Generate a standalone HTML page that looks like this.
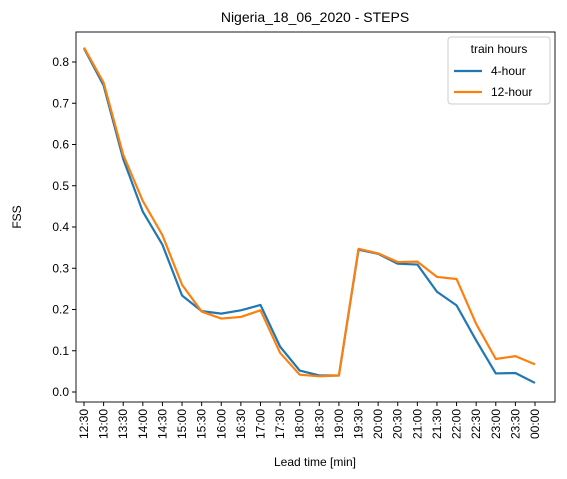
<!DOCTYPE html>
<html><head><meta charset="utf-8"><style>
body{margin:0;background:#fff;}
svg{display:block;font-family:"Liberation Sans","DejaVu Sans",sans-serif;}
</style></head><body>
<svg id="chart" width="567" height="479">
<rect width="567" height="479" fill="#fff"/>
<text x="315" y="22" text-anchor="middle" font-size="14">Nigeria_18_06_2020 - STEPS</text>
<g id="grid"></g>
<g id="lines"></g>
<rect x="76" y="32" width="479" height="370" fill="none" stroke="#000" stroke-width="0.9"/>
<text x="315" y="466" text-anchor="middle" font-size="12">Lead time [min]</text>
<text transform="translate(21,217) rotate(-90)" text-anchor="middle" font-size="12">FSS</text>
<g>
<rect x="448" y="37" width="102" height="67" rx="3" fill="#fff" stroke="#ccc"/>
<text x="499" y="53" text-anchor="middle" font-size="12">train hours</text>
<line x1="454" y1="71" x2="482" y2="71" stroke="#1f77b4" stroke-width="2.2"/>
<text x="491" y="75" font-size="12">4-hour</text>
<line x1="454" y1="92" x2="482" y2="92" stroke="#ff7f0e" stroke-width="2.2"/>
<text x="491" y="96" font-size="12">12-hour</text>
</g>
</svg>
<script>
const categories=["12:30","13:00","13:30","14:00","14:30","15:00","15:30","16:00","16:30","17:00","17:30","18:00","18:30","19:00","19:30","20:00","20:30","21:00","21:30","22:00","22:30","23:00","23:30","00:00"];
const series4h=[0.833,0.743,0.565,0.437,0.357,0.234,0.196,0.190,0.198,0.211,0.110,0.052,0.040,0.040,0.345,0.335,0.311,0.309,0.243,0.210,0.125,0.045,0.046,0.022];
const series12h=[0.835,0.750,0.575,0.463,0.380,0.260,0.195,0.178,0.182,0.198,0.095,0.042,0.038,0.040,0.347,0.336,0.315,0.316,0.279,0.274,0.165,0.080,0.087,0.067];
const yTicks=[0,0.1,0.2,0.3,0.4,0.5,0.6,0.7,0.8];
const NS="http://www.w3.org/2000/svg";
function xs(i){return 84+i*(535-84)/(categories.length-1);}
function ys(v){return 392-v*412.5;}
const g=document.getElementById('grid'),L=document.getElementById('lines');
function mk(t,a,p){const e=document.createElementNS(NS,t);for(const k in a)e.setAttribute(k,a[k]);p.appendChild(e);return e;}
yTicks.forEach(v=>{
 mk('line',{x1:72,x2:76,y1:ys(v),y2:ys(v),stroke:'#000'},g);
 const t=mk('text',{x:69,y:ys(v)+4,'text-anchor':'end','font-size':12},g);
 t.textContent=v.toFixed(1);
 
 
});
categories.forEach((c,i)=>{
 mk('line',{x1:xs(i),x2:xs(i),y1:402,y2:406,stroke:'#000'},g);
 const t=mk('text',{transform:`translate(${xs(i)+4},409) rotate(-90)`,'text-anchor':'end','font-size':12},g);
 t.textContent=c;
 
 
});
[[series4h,'#1f77b4','line-4-hour'],[series12h,'#ff7f0e','line-12-hour']].forEach(([s,c,n])=>{
 const p=mk('polyline',{points:s.map((v,i)=>xs(i)+','+ys(v)).join(' '),fill:'none',stroke:c,'stroke-width':2.2,'stroke-linejoin':'round'},L);
 
 
});
</script>
</body></html>
